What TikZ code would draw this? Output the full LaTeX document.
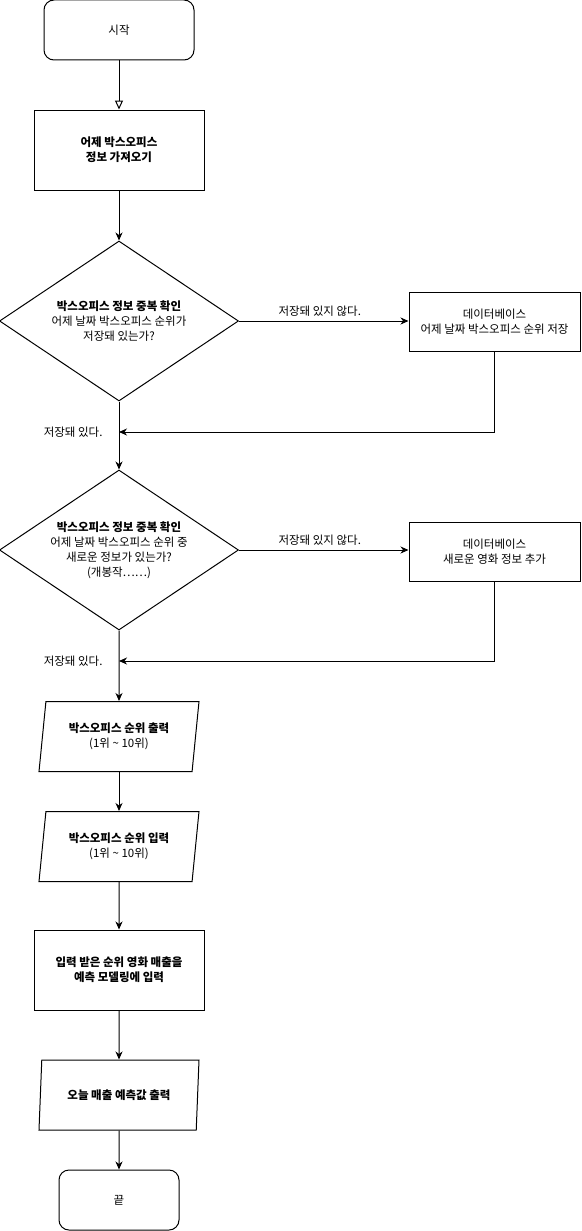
\documentclass[tikz,border=0pt]{standalone}
\usepackage{fontspec}
\setmainfont{Noto Sans CJK KR}
\usetikzlibrary{shapes.geometric,arrows.meta}

\begin{document}
\begin{tikzpicture}[x=1pt,y=-1pt,line width=1pt]
        \tikzstyle{every node}+=[inner sep=0pt, align=center, font=\fontsize{11.5}{15}\selectfont]
        \tikzstyle{terminal}=[draw, rounded corners=10pt, minimum height=60pt]
        \tikzstyle{process}=[draw]
        \tikzstyle{decision}=[draw, shape=diamond, aspect=1.49, minimum width=239pt, minimum height=160pt]
        \tikzstyle{io}=[draw, shape=trapezium, trapezium left angle=75.6, trapezium right angle=104.4, trapezium stretches body, minimum width=160pt, minimum height=70pt]
        \tikzstyle{flow}=[-{Stealth[length=8pt,width=7pt,inset=2.5pt]}]
        \tikzstyle{lbl}=[font=\fontsize{11.5}{13}\selectfont]
        \useasboundingbox (0,0) rectangle (581,1231);
        % main column
        \node [terminal, minimum width=150pt] (start) at (119,30) {시작};
        \node [process, minimum width=170pt, minimum height=80pt] (fetch) at (119,150) {\textbf{어제 박스오피스}\\\textbf{정보 가져오기}};
        \node [decision] (check1) at (119,321) {\textbf{박스오피스 정보 중복 확인}\\어제 날짜 박스오피스 순위가\\저장돼 있는가?};
        \coordinate (merge1) at (119,432);
        \node [decision] (check2) at (119,550) {\textbf{박스오피스 정보 중복 확인}\\어제 날짜 박스오피스 순위 중\\새로운 정보가 있는가?\\(개봉작……)};
        \coordinate (merge2) at (119,661);
        \node [io] (out1) at (119,736.5) {\textbf{박스오피스 순위 출력}\\(1위 \textasciitilde{} 10위)};
        \node [io] (in1) at (119,846.5) {\textbf{박스오피스 순위 입력}\\(1위 \textasciitilde{} 10위)};
        \node [process, minimum width=170pt, minimum height=80pt] (model) at (119,970) {\textbf{입력 받은 순위 영화 매출을}\\\textbf{예측 모델링에 입력}};
        \node [io] (out2) at (119,1095) {\textbf{오늘 매출 예측값 출력}};
        \node [terminal, minimum width=120pt] (finish) at (119,1200) {끝};
        % database side
        \node [process, minimum width=171pt, minimum height=59pt] (db1) at (494.5,321.5) {데이터베이스\\어제 날짜 박스오피스 순위 저장};
        \node [process, minimum width=171pt, minimum height=59pt] (db2) at (494.5,551.5) {데이터베이스\\새로운 영화 정보 추가};
        % connectors
        \draw [-{Triangle[length=9pt,width=8pt,fill=white]}] (start) -- (fetch);
        \draw [flow] (fetch) -- (check1);
        \draw [flow] (check1.east) -- (check1.east -| db1.west) node [midway, above=4pt, xshift=-4pt, lbl] (no1) {저장돼 있지 않다.};
        \draw [flow] (db1.south) |- (merge1);
        \node [lbl, left=16pt] (yes1) at (merge1) {저장돼 있다.};
        \draw [flow] (check1.south) -- (check2.north);
        \draw [flow] (check2.east) -- (check2.east -| db2.west) node [midway, above=4pt, xshift=-4pt, lbl] (no2) {저장돼 있지 않다.};
        \draw [flow] (db2.south) |- (merge2);
        \node [lbl, left=16pt] (yes2) at (merge2) {저장돼 있다.};
        \draw [flow] (check2.south) -- (out1.north);
        \draw [flow] (out1.south) -- (in1.north);
        \draw [flow] (in1.south) -- (model.north);
        \draw [flow] (model.south) -- (out2.north);
        \draw [flow] (out2.south) -- (finish.north);
\end{tikzpicture}
\end{document}
